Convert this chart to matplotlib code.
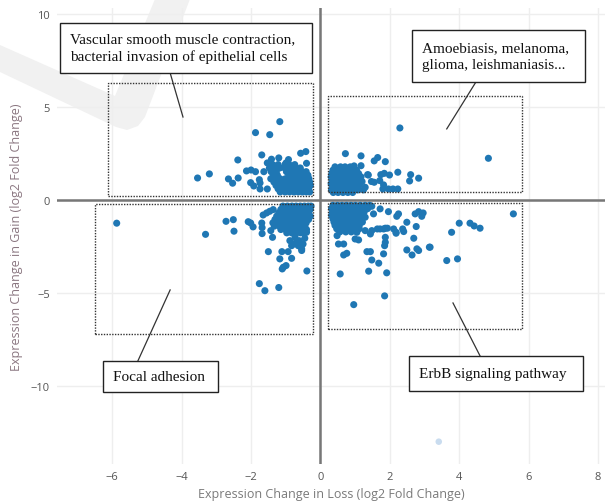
import numpy as np
import matplotlib.pyplot as plt
from matplotlib.patches import Rectangle, Polygon

# ---- data (log2 fold change) ----
# sparse points, upper-left quadrant
tl_points = [(-1.17, 4.21), (-1.87, 3.62), (-1.46, 3.51), (-1.69, 2.42), (-2.38, 2.15),
             (-1.41, 2.19), (-1.20, 2.26), (-0.92, 2.17), (-0.57, 2.51), (-0.42, 2.60),
             (-0.40, 1.97), (-1.53, 1.99), (-0.99, 1.99), (-2.13, 1.56), (-2.00, 1.61),
             (-1.87, 1.52), (-1.63, 1.52), (-3.54, 1.18), (-3.20, 1.40), (-2.65, 1.13),
             (-2.53, 0.90), (-2.37, 1.18), (-2.01, 0.93), (-1.92, 0.75), (-1.74, 0.91),
             (-1.74, 0.59), (-1.53, 0.59), (-1.76, 1.09)]
# dense block, upper-left: y -> x values
tl_dense = {1.90: [-1.38, -1.22, -1.02, -0.90, -0.74],
            1.72: [-1.47, -1.31, -1.17, -1.03, -0.88, -0.72, -0.58],
            1.52: [-1.42, -1.27, -0.98, -0.84, -0.69, -0.53, -0.41],
            1.33: [-1.36, -1.24, -0.91, -0.77, -0.63, -0.50, -0.36],
            1.14: [-1.43, -1.30, -1.16, -1.01, -0.87, -0.74, -0.61, -0.47, -0.33],
            0.96: [-1.34, -1.19, -1.06, -0.93, -0.80, -0.67, -0.55, -0.42, -0.31],
            0.78: [-1.28, -1.13, -1.00, -0.88, -0.75, -0.62, -0.49, -0.37, -0.29],
            0.60: [-1.22, -1.08, -0.95, -0.83, -0.70, -0.58, -0.46, -0.34],
            0.43: [-1.16, -1.02, -0.89, -0.76, -0.64, -0.52, -0.41, -0.31]}

tr_points = [(2.29, 3.87), (4.84, 2.24), (0.72, 2.49), (1.17, 2.37), (1.55, 2.10),
             (1.65, 2.28), (1.87, 2.06), (0.52, 1.70), (0.97, 1.83), (1.17, 1.84),
             (1.36, 1.36), (1.55, 0.95), (1.74, 1.36), (1.84, 1.43), (1.99, 1.34),
             (2.23, 1.49), (2.60, 1.36), (2.57, 1.02), (2.83, 1.17), (1.82, 0.81),
             (1.80, 0.59), (1.96, 0.59), (2.09, 0.59), (2.23, 0.59), (1.20, 0.99),
             (1.29, 0.68), (1.10, 0.77), (1.38, 1.34), (1.47, 0.99), (1.71, 1.04)]
tr_dense = {1.78: [0.42, 0.58, 0.71, 0.86],
            1.60: [0.36, 0.49, 0.63, 0.78, 0.93, 1.04],
            1.42: [0.33, 0.45, 0.58, 0.72, 0.86, 0.99, 1.10],
            1.24: [0.31, 0.43, 0.55, 0.67, 0.80, 0.93, 1.06, 1.17],
            1.06: [0.34, 0.47, 0.59, 0.71, 0.84, 0.96, 1.08],
            0.88: [0.31, 0.43, 0.55, 0.67, 0.79, 0.91, 1.03, 1.14],
            0.70: [0.34, 0.46, 0.58, 0.70, 0.82, 0.94, 1.05],
            0.54: [0.32, 0.44, 0.56, 0.69, 0.81, 0.94, 1.08, 1.24],
            0.40: [0.37, 0.51, 0.65, 0.79, 0.93]}

bl_points = [(-5.87, -1.25), (-3.31, -1.85), (-2.72, -1.15), (-2.51, -1.06), (-2.49, -1.68),
             (-2.08, -1.17), (-2.01, -1.24), (-1.94, -1.45), (-1.69, -1.24), (-1.68, -1.81),
             (-1.68, -1.49), (-1.50, -2.78), (-1.17, -3.17), (-1.11, -2.78), (-0.93, -2.78),
             (-0.83, -3.14), (-1.07, -3.62), (-0.99, -3.53), (-1.10, -3.71), (-0.39, -3.82),
             (-1.76, -4.50), (-1.60, -4.88), (-1.20, -4.71), (-1.43, -1.65), (-1.38, -2.01),
             (-1.65, -0.81), (-1.55, -0.70), (-1.46, -0.61), (-1.36, -0.52),
             (-0.88, -2.19), (-0.78, -2.37), (-0.64, -2.46), (-0.54, -2.63), (-0.45, -2.06),
             (-0.61, -2.19), (-0.73, -2.01), (-0.69, -2.28), (-0.83, -2.46), (-0.50, -2.37),
             (-0.40, -1.74), (-0.54, -2.72)]
bl_dense = {-0.33: [-1.08, -0.95, -0.82, -0.70, -0.58, -0.46, -0.35, -0.27],
            -0.51: [-1.14, -1.01, -0.88, -0.76, -0.64, -0.52, -0.40, -0.29],
            -0.69: [-1.20, -1.07, -0.94, -0.82, -0.70, -0.58, -0.46, -0.34],
            -0.87: [-1.26, -1.13, -1.00, -0.88, -0.76, -0.64, -0.52, -0.40, -0.29],
            -1.05: [-1.31, -1.19, -1.06, -0.94, -0.82, -0.70, -0.58, -0.46, -0.34],
            -1.23: [-1.37, -1.25, -1.12, -1.00, -0.88, -0.76, -0.64, -0.52, -0.41],
            -1.41: [-1.33, -1.18, -1.05, -0.93, -0.81, -0.69, -0.57, -0.45],
            -1.59: [-1.14, -1.00, -0.87, -0.75, -0.62, -0.50, -0.40],
            -1.77: [-0.97, -0.83, -0.70, -0.58, -0.47]}

br_points = [(0.57, -3.98), (0.96, -5.63), (1.85, -5.16), (1.39, -3.83), (1.91, -3.92),
             (1.48, -3.23), (1.68, -3.40), (1.82, -2.90), (1.85, -2.46), (1.87, -2.28),
             (1.34, -2.78), (1.44, -2.78), (0.67, -2.96), (0.76, -2.87), (0.52, -2.37),
             (0.67, -2.37), (0.48, -1.92), (1.00, -2.10), (1.10, -2.15), (2.49, -2.69),
             (2.64, -2.96), (2.78, -2.63), (2.83, -2.72), (3.14, -2.54), (2.69, -2.06),
             (2.40, -1.70), (2.49, -1.20), (2.76, -1.43), (2.73, -0.75), (2.83, -0.63),
             (2.25, -0.75), (2.20, -0.88), (1.96, -0.63), (1.72, -0.48), (1.48, -0.34),
             (1.53, -0.75), (1.29, -0.93), (1.82, -1.56), (1.72, -1.56), (1.87, -1.52),
             (2.11, -1.56), (2.18, -1.79), (1.48, -1.65), (1.44, -1.83), (1.29, -1.65),
             (1.05, -1.74), (1.87, -2.01), (2.96, -0.70), (2.92, -0.88), (4.00, -1.25),
             (4.31, -1.25), (4.43, -1.40), (4.60, -1.52), (3.78, -1.74), (5.56, -0.75),
             (3.16, -2.54), (3.64, -3.26), (3.95, -3.17), (2.37, -1.56), (1.93, -1.52),
             (1.64, -1.56), (2.18, -1.74)]
br_dense = {-0.29: [0.36, 0.49, 0.62, 0.75, 0.88, 1.01, 1.15, 1.29, 1.42],
            -0.47: [0.32, 0.45, 0.58, 0.71, 0.84, 0.97, 1.10, 1.23, 1.36],
            -0.65: [0.35, 0.48, 0.61, 0.74, 0.87, 1.00, 1.13, 1.26],
            -0.83: [0.32, 0.45, 0.58, 0.71, 0.84, 0.97, 1.10, 1.19],
            -1.01: [0.36, 0.49, 0.62, 0.75, 0.88, 1.01, 1.14],
            -1.19: [0.39, 0.52, 0.65, 0.78, 0.92, 1.06, 1.21],
            -1.37: [0.42, 0.56, 0.70, 0.84, 0.98, 1.12],
            -1.55: [0.47, 0.62, 0.77, 0.93, 1.12],
            -1.72: [0.56, 0.73, 0.89]}

faded_point = (3.41, -13.0)

x_ticks = [-6, -4, -2, 0, 2, 4, 6, 8]
y_ticks = [-10, -5, 0, 5, 10]

# pathway regions (x0, y0, x1, y1) and their callouts
regions = [(-6.12, 0.21, -0.22, 6.29), (-6.50, -7.20, -0.20, -0.22),
           (0.21, 0.43, 5.80, 5.60), (0.21, -6.94, 5.80, -0.16)]
labels = ["Vascular smooth muscle contraction,\nbacterial invasion of epithelial cells",
          "Amoebiasis, melanoma,\nglioma, leishmaniasis...",
          "Focal adhesion",
          "ErbB signaling pathway"]
label_boxes = [(-7.51, 6.83, -0.24, 9.52), (2.63, 6.34, 7.62, 9.14),
               (-6.27, -10.32, -2.95, -8.66), (2.55, -10.27, 7.56, -8.39)]
label_lines = [((-4.33, 6.83), (-3.96, 4.46)), ((4.48, 6.34), (3.64, 3.82)),
               ((-5.26, -8.66), (-4.33, -4.84)), ((4.60, -8.39), (3.82, -5.54))]


def collect(points, dense):
    xs = [p[0] for p in points]
    ys = [p[1] for p in points]
    for yv, row in dense.items():
        xs += row
        ys += [yv] * len(row)
    return xs, ys


fig = plt.figure(figsize=(6.05, 5.02), dpi=100)
ax = fig.add_axes([57 / 605, 37 / 502, 548 / 605, 455.6 / 502])
ax.set_facecolor('none')

# faint watermark in the top-left corner (pixel coords)
mark = [(155, 0), (190, 0), (145, 118), (138, 127), (127, 131), (116, 128), (0, 73),
        (0, 46), (115, 97)]
fig.patches.append(Polygon([(px / 605, 1 - py / 502) for px, py in mark], closed=True,
                           transform=fig.transFigure, fc='#f1f1f1', ec='none', zorder=-5))

ax.set_xlim(-7.59, 8.2)
ax.set_ylim(-14.2, 10.3)
ax.set_xticks(x_ticks)
ax.set_yticks(y_ticks)
ax.grid(True, color='#eeeeee', lw=1)
ax.set_axisbelow(True)
for s in ax.spines.values():
    s.set_visible(False)
ax.tick_params(length=0, labelsize=8, labelcolor='#555555', pad=5)
for lab in ax.get_xticklabels() + ax.get_yticklabels():
    lab.set_family('Open Sans')

ax.axhline(0, color='#777777', lw=1.8, zorder=1)
ax.axvline(0, color='#777777', lw=1.8, zorder=1)

for pts, dense in [(tl_points, tl_dense), (tr_points, tr_dense),
                   (bl_points, bl_dense), (br_points, br_dense)]:
    xs, ys = collect(pts, dense)
    ax.scatter(xs, ys, s=26, color='#1f77b4', edgecolors='none', zorder=3)
ax.scatter([faded_point[0]], [faded_point[1]], s=22, color='#c9dcef',
           edgecolors='none', zorder=3)

for x0, y0, x1, y1 in regions:
    ax.add_patch(Rectangle((x0, y0), x1 - x0, y1 - y0, fill=False, ec='#333333',
                           lw=1.0, ls=(0, (1, 1)), zorder=4))

for (p0, p1) in label_lines:
    ax.plot([p0[0], p1[0]], [p0[1], p1[1]], color='#333333', lw=0.9, zorder=4)

for text, (x0, y0, x1, y1) in zip(labels, label_boxes):
    ax.add_patch(Rectangle((x0, y0), x1 - x0, y1 - y0, fc='white', ec='#222222',
                           lw=1.0, zorder=5))
    ax.text(x0 + 0.3, (y0 + y1) / 2, text, family='Liberation Serif', fontsize=11,
            va='center', ha='left', linespacing=1.35, color='#111111', zorder=6)

ax.set_xlabel('Expression Change in Loss (log2 Fold Change)', family='Open Sans',
              fontsize=9, color='#7a7a7a', labelpad=4)
ax.set_ylabel('Expression Change in Gain (log2 Fold Change)', family='Open Sans',
              fontsize=9, color='#8a7680', labelpad=6)

fig.savefig('out.png', dpi=100)
